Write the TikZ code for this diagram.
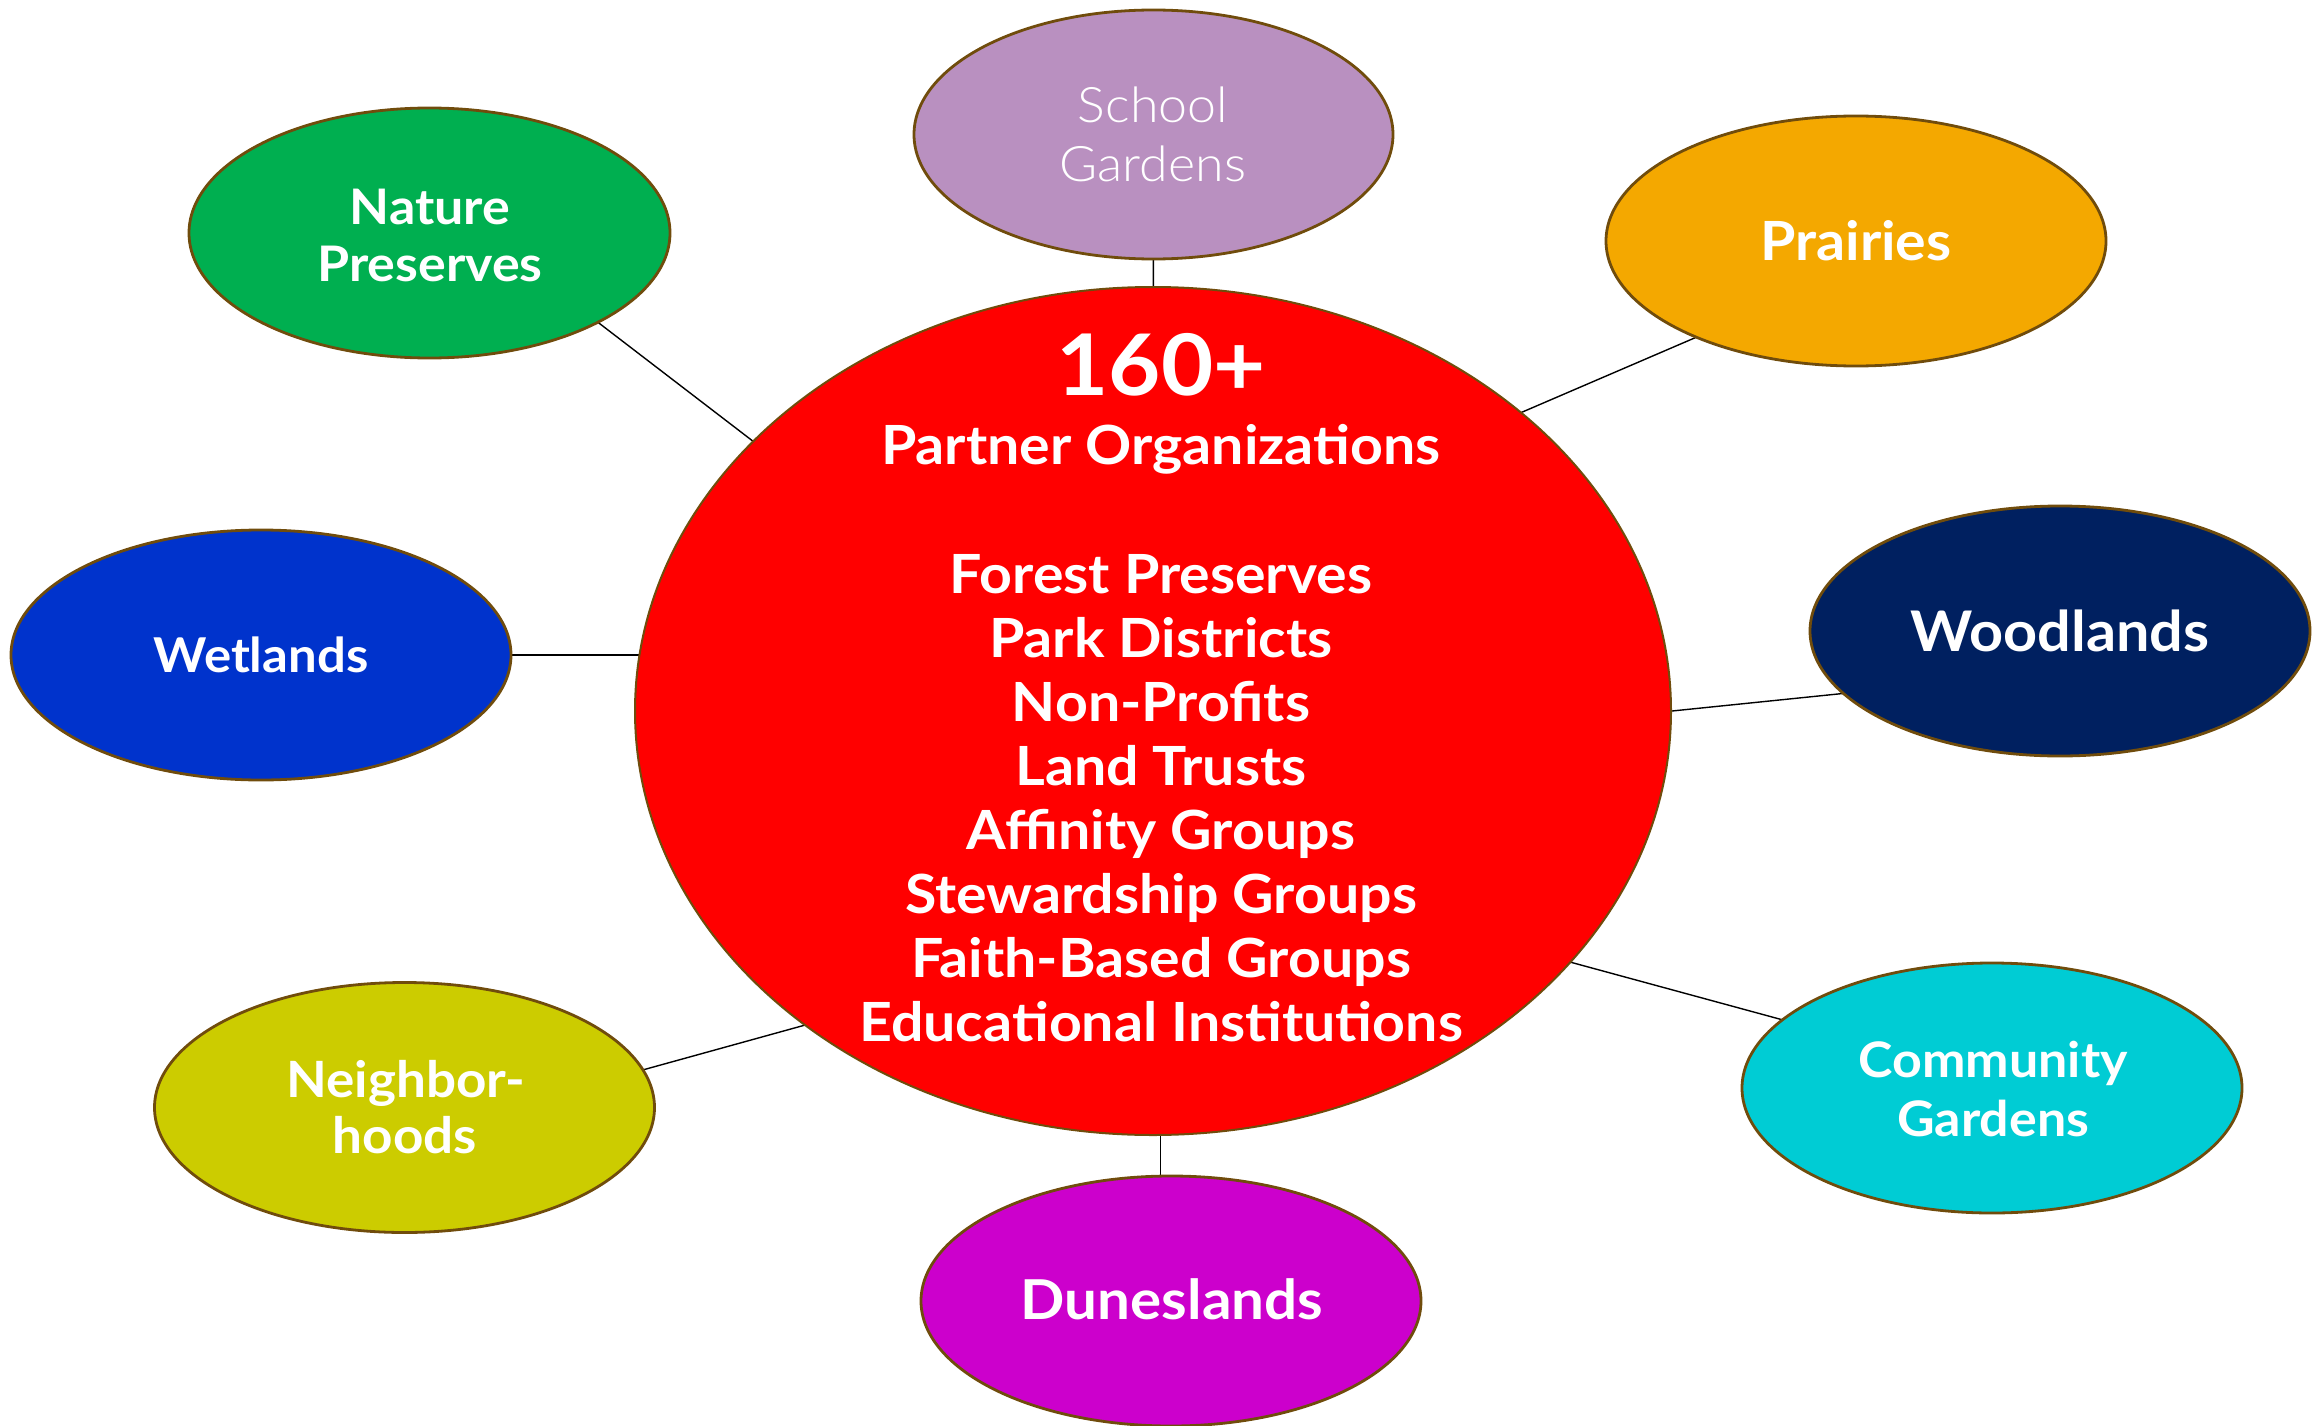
\documentclass[tikz,border=0pt]{standalone}
\usepackage{fontspec}
\setmainfont{Lato}[FakeStretch=1.06]
\newfontfamily\latolight{Lato Light}[FakeStretch=1.06]
\usetikzlibrary{shapes.geometric,calc,backgrounds}
\definecolor{edgebrown}{RGB}{112,76,12}
\definecolor{cred}{RGB}{255,0,0}
\definecolor{cschool}{RGB}{185,144,192}
\definecolor{cnature}{RGB}{0,175,80}
\definecolor{cprairie}{RGB}{244,168,0}
\definecolor{cwet}{RGB}{0,51,204}
\definecolor{cwood}{RGB}{0,32,96}
\definecolor{cneigh}{RGB}{204,204,0}
\definecolor{ccomm}{RGB}{0,204,212}
\definecolor{cdune}{RGB}{204,0,204}
\newcommand\fsz[1]{\fontsize{#1}{#1}\selectfont}
\begin{document}
\begin{tikzpicture}[x=1pt,y=-1pt,
  bubble/.style={ellipse, draw=edgebrown, line width=2.8pt, inner sep=0pt,
    minimum width=500pt, minimum height=250pt},
  conn/.style={draw=black, line width=1.4pt},
  lbl/.style={text=white, anchor=base, inner sep=0pt, font=\bfseries\fsz{49}},
  lightlbl/.style={text=white, anchor=base, inner sep=0pt, font=\latolight\fsz{49}},
  biglbl/.style={text=white, anchor=base, inner sep=0pt, font=\bfseries\fsz{85}},
  listlbl/.style={text=white, anchor=base, inner sep=0pt, font=\bfseries\fsz{54}}]
\useasboundingbox (0,0) rectangle (2321,1426);
% central ellipse
\node[bubble, fill=cred, line width=2pt, minimum width=1036pt, minimum height=848pt] (c) at (1153,711) {};
% satellites
\node[bubble, fill=cschool, minimum width=479pt, minimum height=249pt] (sg) at (1153.5,134.5) {};
\node[bubble, fill=cnature, minimum width=481pt] (np) at (429.5,233) {};
\node[bubble, fill=cprairie] (pr) at (1856,241) {};
\node[bubble, fill=cwet] (wt) at (261,655) {};
\node[bubble, fill=cwood] (wd) at (2060,631) {};
\node[bubble, fill=ccomm] (cg) at (1992,1088) {};
\node[bubble, fill=cneigh] (nb) at (404.5,1107.5) {};
\node[bubble, fill=cdune] (dn) at (1171,1301) {};
% connectors (behind the ellipses, ends tucked inside)
\begin{scope}[on background layer]
\draw[conn] (sg.center) -- (c.center);
\draw[conn] ($(np.-28)!-10pt!(c.146)$) -- ($(c.146)!-10pt!(np.-28)$);
\draw[conn] ($(pr.211.6)!-10pt!(c.39.3)$) -- ($(c.39.3)!-10pt!(pr.211.6)$);
\draw[conn] (wt.center) -- (wt.center -| c.center);
\draw[conn] ($(wd.196)!-10pt!(c.0.6)$) -- ($(c.0.6)!-10pt!(wd.196)$);
\draw[conn] ($(cg.162)!-10pt!(c.-31.5)$) -- ($(c.-31.5)!-10pt!(cg.162)$);
\draw[conn] ($(nb.9.4)!-10pt!(c.222.3)$) -- ($(c.222.3)!-10pt!(nb.9.4)$);
\draw[conn] ($(c.271.1)+(0,-20)$) -- ($(c.271.1 |- dn.north)+(0,20)$);
\end{scope}
% central texts
\node[biglbl] (t160) at (1161,395) {160+};
\node[listlbl] (tpo) at (1161,464) {Partner Organizations};
\foreach \t [count=\i from 0] in {Forest Preserves,Park Districts,Non-Profits,Land Trusts,Affinity Groups,Stewardship Groups,Faith-Based Groups,Educational Institutions}
  \node[listlbl] (li\i) at (1161,593+64*\i) {\t};
% satellite texts
\node[lightlbl] (sg1) at (1153,123) {School};
\node[lightlbl] (sg2) at (1153,182) {Gardens};
\node[lbl] (np1) at (430,224) {Nature};
\node[lbl] (np2) at (430,281) {Preserves};
\node[lbl, font=\bfseries\fsz{54}] (pr1) at (1856,260) {Prairies};
\node[lbl, font=\bfseries\fsz{48}] (wt1) at (261,672) {Wetlands};
\node[lbl, font=\bfseries\fsz{56}] (wd1) at (2060,651) {Woodlands};
\node[lbl] (cg1) at (1993,1077) {Community};
\node[lbl] (cg2) at (1993,1136) {Gardens};
\node[lbl, font=\bfseries\fsz{50}] (nb1) at (406,1097) {Neighbor-};
\node[lbl, font=\bfseries\fsz{50}] (nb2) at (405,1153) {hoods};
\node[lbl, font=\bfseries\fsz{55}] (dn1) at (1172,1319) {Duneslands};
\end{tikzpicture}
\end{document}
